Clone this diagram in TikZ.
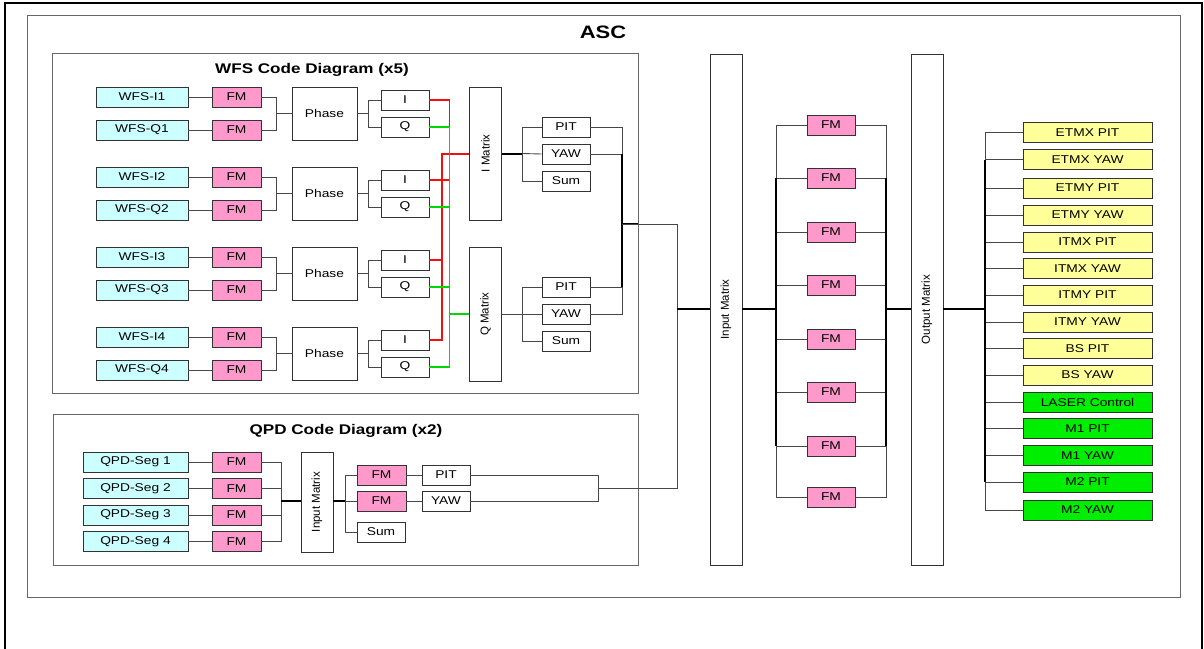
\documentclass[tikz,border=0pt]{standalone}
\usepackage{fontspec}
\setmainfont{Liberation Sans}[FakeStretch=1.22]
\newfontfamily\rotfont{Liberation Sans}
\usepackage{tikz}
\usetikzlibrary{positioning, calc}
\usepackage{xcolor}

\definecolor{wfscyan}{HTML}{CCFFFF}
\definecolor{fmpink}{HTML}{FF99CC}
\definecolor{outyellow}{HTML}{FFFF99}
\definecolor{outgreen}{HTML}{00EE00}
\definecolor{wirered}{HTML}{F01010}
\definecolor{wiregreen}{HTML}{00D800}

\begin{document}
\begin{tikzpicture}[
  x=1pt, y=-1pt,
  blk/.style    = {draw=black!80, line width=0.9pt, inner sep=0pt,
                   font=\fontsize{11.3}{12}\selectfont, align=center},
  inbox/.style  = {blk, fill=wfscyan, minimum height=20pt},
  fmbox/.style  = {blk, fill=fmpink, minimum width=49pt, minimum height=20pt},
  sigbox/.style = {blk, fill=white, minimum width=48pt, minimum height=20pt},
  matbox/.style = {blk, fill=white, minimum width=32pt,
                   font=\rotfont\fontsize{11.5}{12}\selectfont},
  outbox/.style = {blk, minimum width=129pt, minimum height=20pt},
  frame/.style  = {draw=black!60, line width=1pt},
  title/.style  = {font=\fontsize{14}{16}\selectfont\bfseries},
  wire/.style   = {draw=black!72, line width=0.9pt},
  bus/.style    = {draw=black, line width=2pt},
  iwire/.style  = {draw=wirered, line width=1.2pt},
  qwire/.style  = {draw=wiregreen, line width=1.2pt},
]
\useasboundingbox (0,0) rectangle (1204,648);

% ── Frames ──────────────────────────────────────────────────────────────────
\draw[line width=1.5pt] (5,3) rectangle (1202,662);
\draw[frame] (27,15) rectangle (1180,597);
\node[font=\fontsize{18}{20}\selectfont\bfseries] (asc) at (603,32) {ASC};

\draw[frame] (52,53) rectangle (638,393);
\node[title] (wfstitle) at (312,70) {WFS Code Diagram (x5)};

\draw[frame] (53,414) rectangle (638,565);
\node[title] (qpdtitle) at (346,431) {QPD Code Diagram (x2)};

% ── WFS channels ────────────────────────────────────────────────────────────
\foreach \g/\yy in {1/0, 2/80, 3/160, 4/240}{
  \node[inbox, minimum width=92pt] (wfsi\g) at (142,{97+\yy})  {WFS-I\g};
  \node[inbox, minimum width=92pt] (wfsq\g) at (142,{130+\yy}) {WFS-Q\g};
  \node[fmbox] (fmi\g) at (236.5,{97+\yy})  {FM};
  \node[fmbox] (fmq\g) at (236.5,{130+\yy}) {FM};
  \node[blk, minimum width=65pt, minimum height=53pt] (ph\g) at (324.5,{113.5+\yy}) {Phase};
  \node[sigbox] (ich\g) at (405,{100+\yy}) {I};
  \node[sigbox] (qch\g) at (405,{127+\yy}) {Q};

  \draw[wire] (wfsi\g) -- (fmi\g);
  \draw[wire] (wfsq\g) -- (fmq\g);
  \draw[wire] (fmi\g.east) -- ++(15,0) |- (ph\g.west);
  \draw[wire] (fmq\g.east) -- ++(15,0) |- (ph\g.west);
  \draw[wire] (ph\g.east) -- ++(11,0) |- (ich\g.west);
  \draw[wire] (ph\g.east) -- ++(11,0) |- (qch\g.west);
}

% ── I / Q matrices ──────────────────────────────────────────────────────────
\node[matbox, minimum height=133pt] (imat) at (485.5,153.5) {\rotatebox{90}{I Matrix}};
\node[matbox, minimum height=134pt] (qmat) at (485.5,314)   {\rotatebox{90}{Q Matrix}};

\draw[iwire] (ich1.east) -- ++(20,0) |- (ich2.east);
\draw[iwire] (imat.west) -- ++(-27,0) |- (ich4.east);
\draw[iwire] (ich3.east) -- ++(13,0);
\draw[iwire, line width=2pt] (imat.west) -- ++(-27,0);

\draw[qwire] (qch1.east) -- ++(20,0) |- (qch4.east);
\draw[qwire] (qch2.east) -- ++(20,0);
\draw[qwire] (qch3.east) -- ++(20,0);
\draw[qwire, line width=2pt] (qmat.west) -- ++(-20,0);

\node[sigbox] (ipit) at (566,127) {PIT};
\node[sigbox] (iyaw) at (566,154) {YAW};
\node[sigbox] (isum) at (566,181) {Sum};
\node[sigbox] (qpit) at (566,287) {PIT};
\node[sigbox] (qyaw) at (566,314) {YAW};
\node[sigbox] (qsum) at (566,341) {Sum};

\coordinate (ibus) at (522,153.5);
\coordinate (qbus) at (522,314);
\draw[bus]  (imat.east |- ibus) -- (ibus);
\draw[wire] (ibus) |- (ipit.west);
\draw[wire] (ibus) |- (isum.west);
\draw[wire] (ibus) -- (iyaw.west);
\draw[wire] (qmat.east |- qbus) -- (qbus);
\draw[wire] (qbus) |- (qpit.west);
\draw[wire] (qbus) |- (qsum.west);
\draw[wire] (qbus) -- (qyaw.west);

\coordinate (wjoin) at (622,224);
\coordinate (drop)  at (677,309);
\draw[wire] (ipit.east) -| (wjoin);
\draw[wire] (iyaw.east) -- (iyaw.east -| wjoin);
\draw[wire] (qpit.east) -- (qpit.east -| wjoin);
\draw[wire] (qyaw.east) -| (wjoin);
\draw[bus]  (iyaw.east -| wjoin) -- (qpit.east -| wjoin);
\draw[bus]  (wjoin) -- ++(16,0);
\draw[wire] (wjoin) -| (drop);

% ── QPD channels ────────────────────────────────────────────────────────────
\node[matbox, minimum height=100pt] (pinmat) at (317,502) {\rotatebox{90}{Input Matrix}};
\coordinate (sjoin) at (281,501);
\foreach \k/\yy in {1/462, 2/488.5, 3/515, 4/541.5}{
  \node[inbox, minimum width=105pt] (seg\k) at (135.5,\yy) {QPD-Seg \k};
  \node[fmbox] (sfm\k) at (236.5,\yy) {FM};
  \draw[wire] (seg\k) -- (sfm\k);
  \draw[wire] (sfm\k.east) -| (sjoin);
}
\draw[bus] (sjoin) -- (sjoin -| pinmat.west);

\coordinate (pbus) at (345,501);
\node[fmbox]  (dfma) at (381.5,475) {FM};
\node[fmbox]  (dfmb) at (381.5,501) {FM};
\node[sigbox] (dsum) at (381,532)   {Sum};
\node[sigbox] (dpit) at (446,475)   {PIT};
\node[sigbox] (dyaw) at (446,501)   {YAW};
\draw[bus]  (pinmat.east |- pbus) -- (pbus);
\draw[wire] (pbus) |- (dfma.west);
\draw[wire] (pbus) |- (dsum.west);
\draw[wire] (pbus) -- (dfmb.west);
\draw[wire] (dfma) -- (dpit);
\draw[wire] (dfmb) -- (dyaw);

\coordinate (qpdjoin) at (598,488);
\draw[wire] (dpit.east) -| (qpdjoin);
\draw[wire] (dyaw.east) -| (qpdjoin);
\draw[wire] (qpdjoin) -| (drop);

% ── Input matrix, filter banks, output matrix ───────────────────────────────
\node[matbox, minimum height=511pt] (inmat)  at (726,309.5) {\rotatebox{90}{Input Matrix}};
\node[matbox, minimum height=511pt] (outmat) at (927,309.5) {\rotatebox{90}{Output Matrix}};
\draw[bus] (drop) -- (drop -| inmat.west);

\coordinate (lbus) at (776,309);
\coordinate (rbus) at (886,309);
\foreach \k/\yy in {1/125, 2/178, 3/232, 4/285, 5/339, 6/392, 7/446, 8/497}{
  \node[fmbox, minimum width=48pt] (cfm\k) at (831,\yy) {FM};
  \draw[wire] (cfm\k.west) -| (lbus);
  \draw[wire] (cfm\k.east) -| (rbus);
}
\draw[bus] (cfm2.west -| lbus) -- (cfm7.west -| lbus);
\draw[bus] (cfm2.east -| rbus) -- (cfm7.east -| rbus);
\draw[bus] (inmat.east |- lbus) -- (lbus);
\draw[bus] (rbus) -- (rbus -| outmat.west);

% ── Actuators ───────────────────────────────────────────────────────────────
\coordinate (obus) at (985,309);
\draw[bus] (outmat.east |- obus) -- (obus);
\foreach \k/\yy/\txt/\col in {
   1/132.5/ETMX PIT/outyellow,  2/159.5/ETMX YAW/outyellow,
   3/188/ETMY PIT/outyellow,    4/215/ETMY YAW/outyellow,
   5/242/ITMX PIT/outyellow,    6/268.5/ITMX YAW/outyellow,
   7/295/ITMY PIT/outyellow,    8/322/ITMY YAW/outyellow,
   9/348.5/BS PIT/outyellow,   10/375/BS YAW/outyellow,
  11/402/LASER Control/outgreen, 12/428.5/M1 PIT/outgreen,
  13/455.5/M1 YAW/outgreen,    14/482/M2 PIT/outgreen,
  15/510/M2 YAW/outgreen}{
  \node[outbox, fill=\col] (act\k) at (1087.5,\yy) {\txt};
  \draw[wire] (act\k.west) -| (obus);
}
\draw[bus] (act2.west -| obus) -- (act14.west -| obus);

\end{tikzpicture}
\end{document}
